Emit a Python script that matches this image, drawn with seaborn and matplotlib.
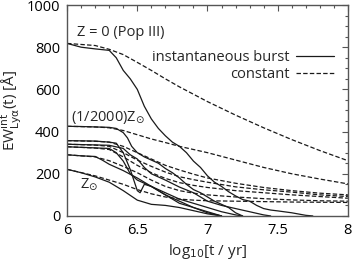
import numpy as np
import pandas as pd
import matplotlib

matplotlib.use("Agg")
import matplotlib.pyplot as plt
import seaborn as sns
from matplotlib.lines import Line2D

# metallicity labels (only a few are annotated on the chart)
metallicities = ["Z0", "Z1/2000", "Zc", "Zd", "Ze", "Zf", "Zsun"]

# instantaneous burst (solid) curves: log t and EW
burst_x = {
    "Z0": [6.0, 6.1, 6.2, 6.3, 6.35, 6.4, 6.45, 6.5, 6.55, 6.6, 6.65, 6.7, 6.75, 6.8, 6.85, 6.9,
           6.95, 7.0, 7.05, 7.1, 7.15, 7.2, 7.25, 7.3, 7.35, 7.4, 7.45, 7.5, 7.6, 7.7, 7.75],
    "Z1/2000": [6.0, 6.1, 6.2, 6.3, 6.35, 6.4, 6.43, 6.46, 6.5, 6.55, 6.6, 6.65, 6.7, 6.75, 6.8,
                6.85, 6.9, 6.95, 7.0, 7.05, 7.1, 7.15, 7.2, 7.25],
    "Zc": [6.0, 6.2, 6.3, 6.35, 6.4, 6.45, 6.5, 6.52, 6.55, 6.6, 6.7, 6.8, 6.9, 7.0, 7.1, 7.2, 7.25],
    "Zd": [6.0, 6.3, 6.4, 6.45, 6.5, 6.55, 6.6, 6.7, 6.8, 6.9, 7.0, 7.1, 7.2, 7.3, 7.4, 7.45],
    "Ze": [6.0, 6.3, 6.35, 6.4, 6.45, 6.5, 6.6, 6.7, 6.8, 6.9, 7.0, 7.1],
    "Zf": [6.0, 6.1, 6.2, 6.25, 6.3, 6.4, 6.5, 6.6, 6.7, 6.8, 6.9, 7.0, 7.1],
    "Zsun": [6.0, 6.1, 6.2, 6.3, 6.4, 6.5, 6.6, 6.7, 6.8, 6.9, 7.0, 7.1],
}
burst_ew = {
    "Z0": [818, 800, 792, 785, 750, 690, 650, 600, 520, 460, 415, 380, 350, 330, 300, 260,
           230, 190, 160, 140, 115, 95, 78, 70, 50, 35, 28, 24, 15, 3, 0],
    "Z1/2000": [425, 424, 422, 420, 415, 395, 370, 330, 300, 280, 265, 250, 225, 205, 180,
                150, 125, 110, 90, 70, 55, 40, 15, 0],
    "Zc": [357, 355, 350, 345, 300, 220, 120, 110, 150, 140, 110, 80, 60, 40, 20, 5, 0],
    "Zd": [340, 335, 320, 290, 270, 230, 200, 170, 137, 110, 70, 50, 35, 20, 5, 0],
    "Ze": [328, 320, 300, 260, 200, 170, 140, 100, 60, 40, 20, 0],
    "Zf": [290, 285, 282, 265, 245, 215, 180, 140, 100, 70, 40, 15, 0],
    "Zsun": [221, 205, 185, 160, 120, 75, 55, 50, 40, 25, 10, 0],
}

# constant star formation (dashed) curves
const_x = [6.0, 6.2, 6.3, 6.4, 6.5, 6.6, 6.7, 6.8, 6.9, 7.0, 7.2, 7.4, 7.6, 7.8, 8.0]
const_ew = {
    "Z0": [818, 808, 790, 765, 728, 690, 650, 612, 577, 542, 478, 418, 362, 310, 262],
    "Z1/2000": [425, 422, 418, 405, 385, 365, 348, 330, 315, 300, 265, 230, 200, 175, 152],
    "Zc": [357, 354, 350, 330, 300, 270, 240, 218, 198, 180, 155, 135, 120, 108, 100],
    "Zd": [340, 336, 330, 300, 265, 235, 208, 186, 172, 160, 138, 124, 113, 100, 92],
    "Ze": [328, 322, 315, 280, 240, 205, 178, 158, 145, 135, 120, 110, 100, 92, 84],
    "Zf": [290, 280, 262, 235, 205, 170, 140, 120, 108, 100, 90, 82, 76, 72, 70],
    "Zsun": [221, 190, 170, 150, 125, 105, 90, 80, 75, 72, 70, 68, 66, 65, 64],
}

rows = []
for z in metallicities:
    for x, y in zip(burst_x[z], burst_ew[z]):
        rows.append((x, y, z, "burst"))
    for x, y in zip(const_x, const_ew[z]):
        rows.append((x, y, z, "constant"))
df = pd.DataFrame(rows, columns=["logt", "ew", "Z", "sfh"])

sns.set_theme(style="white")
plt.rcParams["font.family"] = ["Open Sans", "DejaVu Sans"]
plt.rcParams["mathtext.fontset"] = "dejavusans"
plt.rcParams["lines.scale_dashes"] = False

line_color = "#1a1a1a"
dash = (3.2, 1.6)
fs = 10.5

fig = plt.figure(figsize=(3.55, 2.64), dpi=100)
ax = fig.add_axes([0.189, 0.182, 0.791, 0.799])

sns.lineplot(
    data=df, x="logt", y="ew", units="Z", style="sfh", estimator=None,
    dashes={"burst": "", "constant": dash}, color=line_color, linewidth=0.9,
    legend=False, ax=ax, sort=False,
)

ax.set_xlim(6, 8)
ax.set_ylim(0, 1000)
ax.set_xticks([6, 6.5, 7, 7.5, 8])
ax.set_xticklabels(["6", "6.5", "7", "7.5", "8"])
ax.set_yticks([0, 200, 400, 600, 800, 1000])
ax.set_xticks(np.arange(6, 8.01, 0.1), minor=True)
ax.set_yticks(np.arange(0, 1001, 50), minor=True)
ax.tick_params(which="both", direction="in", top=True, right=True, colors="#555555",
               labelcolor="black", labelsize=fs, width=0.8)
ax.tick_params(which="major", length=4.5, pad=5)
ax.tick_params(which="minor", length=2.5)
for s in ax.spines.values():
    s.set_color("#555555")
    s.set_linewidth(1.0)

ax.set_xlabel(r"log$_{10}$[t / yr]", fontsize=11, labelpad=3)
ax.set_ylabel(r"EW$^{\mathrm{int}}_{\mathrm{Ly\alpha}}$(t) [Å]", fontsize=11, labelpad=2)

ax.text(6.07, 870, "Z = 0 (Pop III)", fontsize=fs, va="center", ha="left")
ax.text(6.03, 468, r"(1/2000)Z$_{\odot}$", fontsize=fs, va="center", ha="left")
ax.text(6.09, 150, r"Z$_{\odot}$", fontsize=fs, va="center", ha="left")

handles = [
    Line2D([], [], color=line_color, linewidth=0.9),
    Line2D([], [], color=line_color, linewidth=0.9, dashes=dash),
]
ax.legend(handles, ["instantaneous burst", "constant"], loc="upper right",
          bbox_to_anchor=(0.975, 0.82), frameon=False, markerfirst=False,
          fontsize=fs, handlelength=2.6, handletextpad=0.4, labelspacing=0.1,
          borderpad=0.0)

fig.savefig("out.png", dpi=100)
